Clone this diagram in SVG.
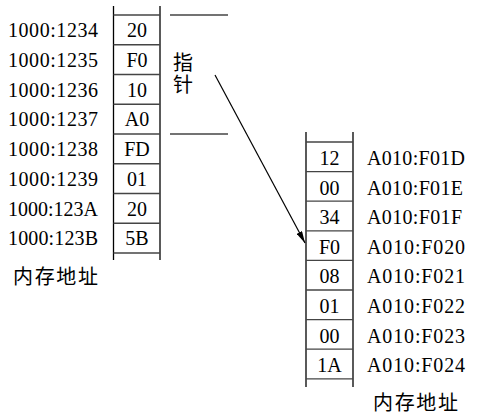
<svg xmlns="http://www.w3.org/2000/svg" width="480" height="416" viewBox="0 0 480 416">
<defs>
<style>
.ln{stroke:#000;stroke-width:1.3;fill:none}
.gl{stroke:#444;stroke-width:1.3;fill:none}
.t{font-family:"Liberation Serif","Times New Roman",serif;font-size:20px;fill:#000}
.v{text-anchor:middle}
.cj{font-family:"Noto Sans CJK SC",sans-serif;font-size:20px;fill:#000}
.vt{writing-mode:vertical-rl;letter-spacing:2.5px}
</style>
<marker id="ah" viewBox="0 0 12 6" refX="12" refY="3" markerWidth="12" markerHeight="6" markerUnits="userSpaceOnUse" orient="auto">
<path d="M0,0 L12,3 L0,6 Z" fill="#000"/>
</marker>
</defs>
<g id="left-memory">
<line class="ln" x1="113.5" y1="6" x2="113.5" y2="260"/>
<line class="ln" x1="160" y1="6" x2="160" y2="260"/>
<g class="gl">
<line x1="113.5" y1="15" x2="160" y2="15"/>
<line x1="113.5" y1="44.75" x2="160" y2="44.75"/>
<line x1="113.5" y1="74.5" x2="160" y2="74.5"/>
<line x1="113.5" y1="104.25" x2="160" y2="104.25"/>
<line x1="113.5" y1="134" x2="160" y2="134"/>
<line x1="113.5" y1="163.75" x2="160" y2="163.75"/>
<line x1="113.5" y1="193.5" x2="160" y2="193.5"/>
<line x1="113.5" y1="223.25" x2="160" y2="223.25"/>
<line x1="113.5" y1="253" x2="160" y2="253"/>
</g>
<g class="t v">
<text x="137" y="37">20</text>
<text x="137" y="67">F0</text>
<text x="137" y="96.5">10</text>
<text x="137" y="126">A0</text>
<text x="137" y="156">FD</text>
<text x="137" y="185.5">01</text>
<text x="137" y="215.5">20</text>
<text x="137" y="245">5B</text>
</g>
<g class="t">
<text x="8" y="37" textLength="90">1000:1234</text>
<text x="8" y="67" textLength="90">1000:1235</text>
<text x="8" y="96.5" textLength="90">1000:1236</text>
<text x="8" y="126" textLength="90">1000:1237</text>
<text x="8" y="156" textLength="90">1000:1238</text>
<text x="8" y="185.5" textLength="90">1000:1239</text>
<text x="8" y="215.5" textLength="90">1000:123A</text>
<text x="8" y="245" textLength="90">1000:123B</text>
</g>
<text class="cj" x="13" y="284" textLength="85">内存地址</text>
</g>
<g id="pointer">
<line class="gl" x1="170" y1="15" x2="228" y2="15"/>
<line class="gl" x1="170" y1="134" x2="228" y2="134"/>
<text class="cj vt" x="183" y="52">指针</text>
</g>
<g id="right-memory">
<line class="ln" x1="306" y1="132" x2="306" y2="387"/>
<line class="ln" x1="353" y1="132" x2="353" y2="387"/>
<g class="gl">
<line x1="306" y1="142" x2="353" y2="142"/>
<line x1="306" y1="171.6" x2="353" y2="171.6"/>
<line x1="306" y1="201.2" x2="353" y2="201.2"/>
<line x1="306" y1="230.8" x2="353" y2="230.8"/>
<line x1="306" y1="260.4" x2="353" y2="260.4"/>
<line x1="306" y1="290" x2="353" y2="290"/>
<line x1="306" y1="319.6" x2="353" y2="319.6"/>
<line x1="306" y1="349.2" x2="353" y2="349.2"/>
<line x1="306" y1="378.8" x2="353" y2="378.8"/>
</g>
<g class="t v">
<text x="329.5" y="165">12</text>
<text x="329.5" y="194.6">00</text>
<text x="329.5" y="224.2">34</text>
<text x="329.5" y="253.8">F0</text>
<text x="329.5" y="283.4">08</text>
<text x="329.5" y="313">01</text>
<text x="329.5" y="342.6">00</text>
<text x="329.5" y="372.2">1A</text>
</g>
<g class="t">
<text x="367" y="165" textLength="98">A010:F01D</text>
<text x="367" y="194.6" textLength="96">A010:F01E</text>
<text x="367" y="224.2" textLength="95">A010:F01F</text>
<text x="367" y="253.8" textLength="98">A010:F020</text>
<text x="367" y="283.4" textLength="98">A010:F021</text>
<text x="367" y="313" textLength="98">A010:F022</text>
<text x="367" y="342.6" textLength="98">A010:F023</text>
<text x="367" y="372.2" textLength="98">A010:F024</text>
</g>
<text class="cj" x="373" y="410" textLength="85">内存地址</text>
</g>
<g id="connectors">
<line x1="215" y1="75" x2="305" y2="243" stroke="#000" stroke-width="1.2" marker-end="url(#ah)"/>
</g>
</svg>
